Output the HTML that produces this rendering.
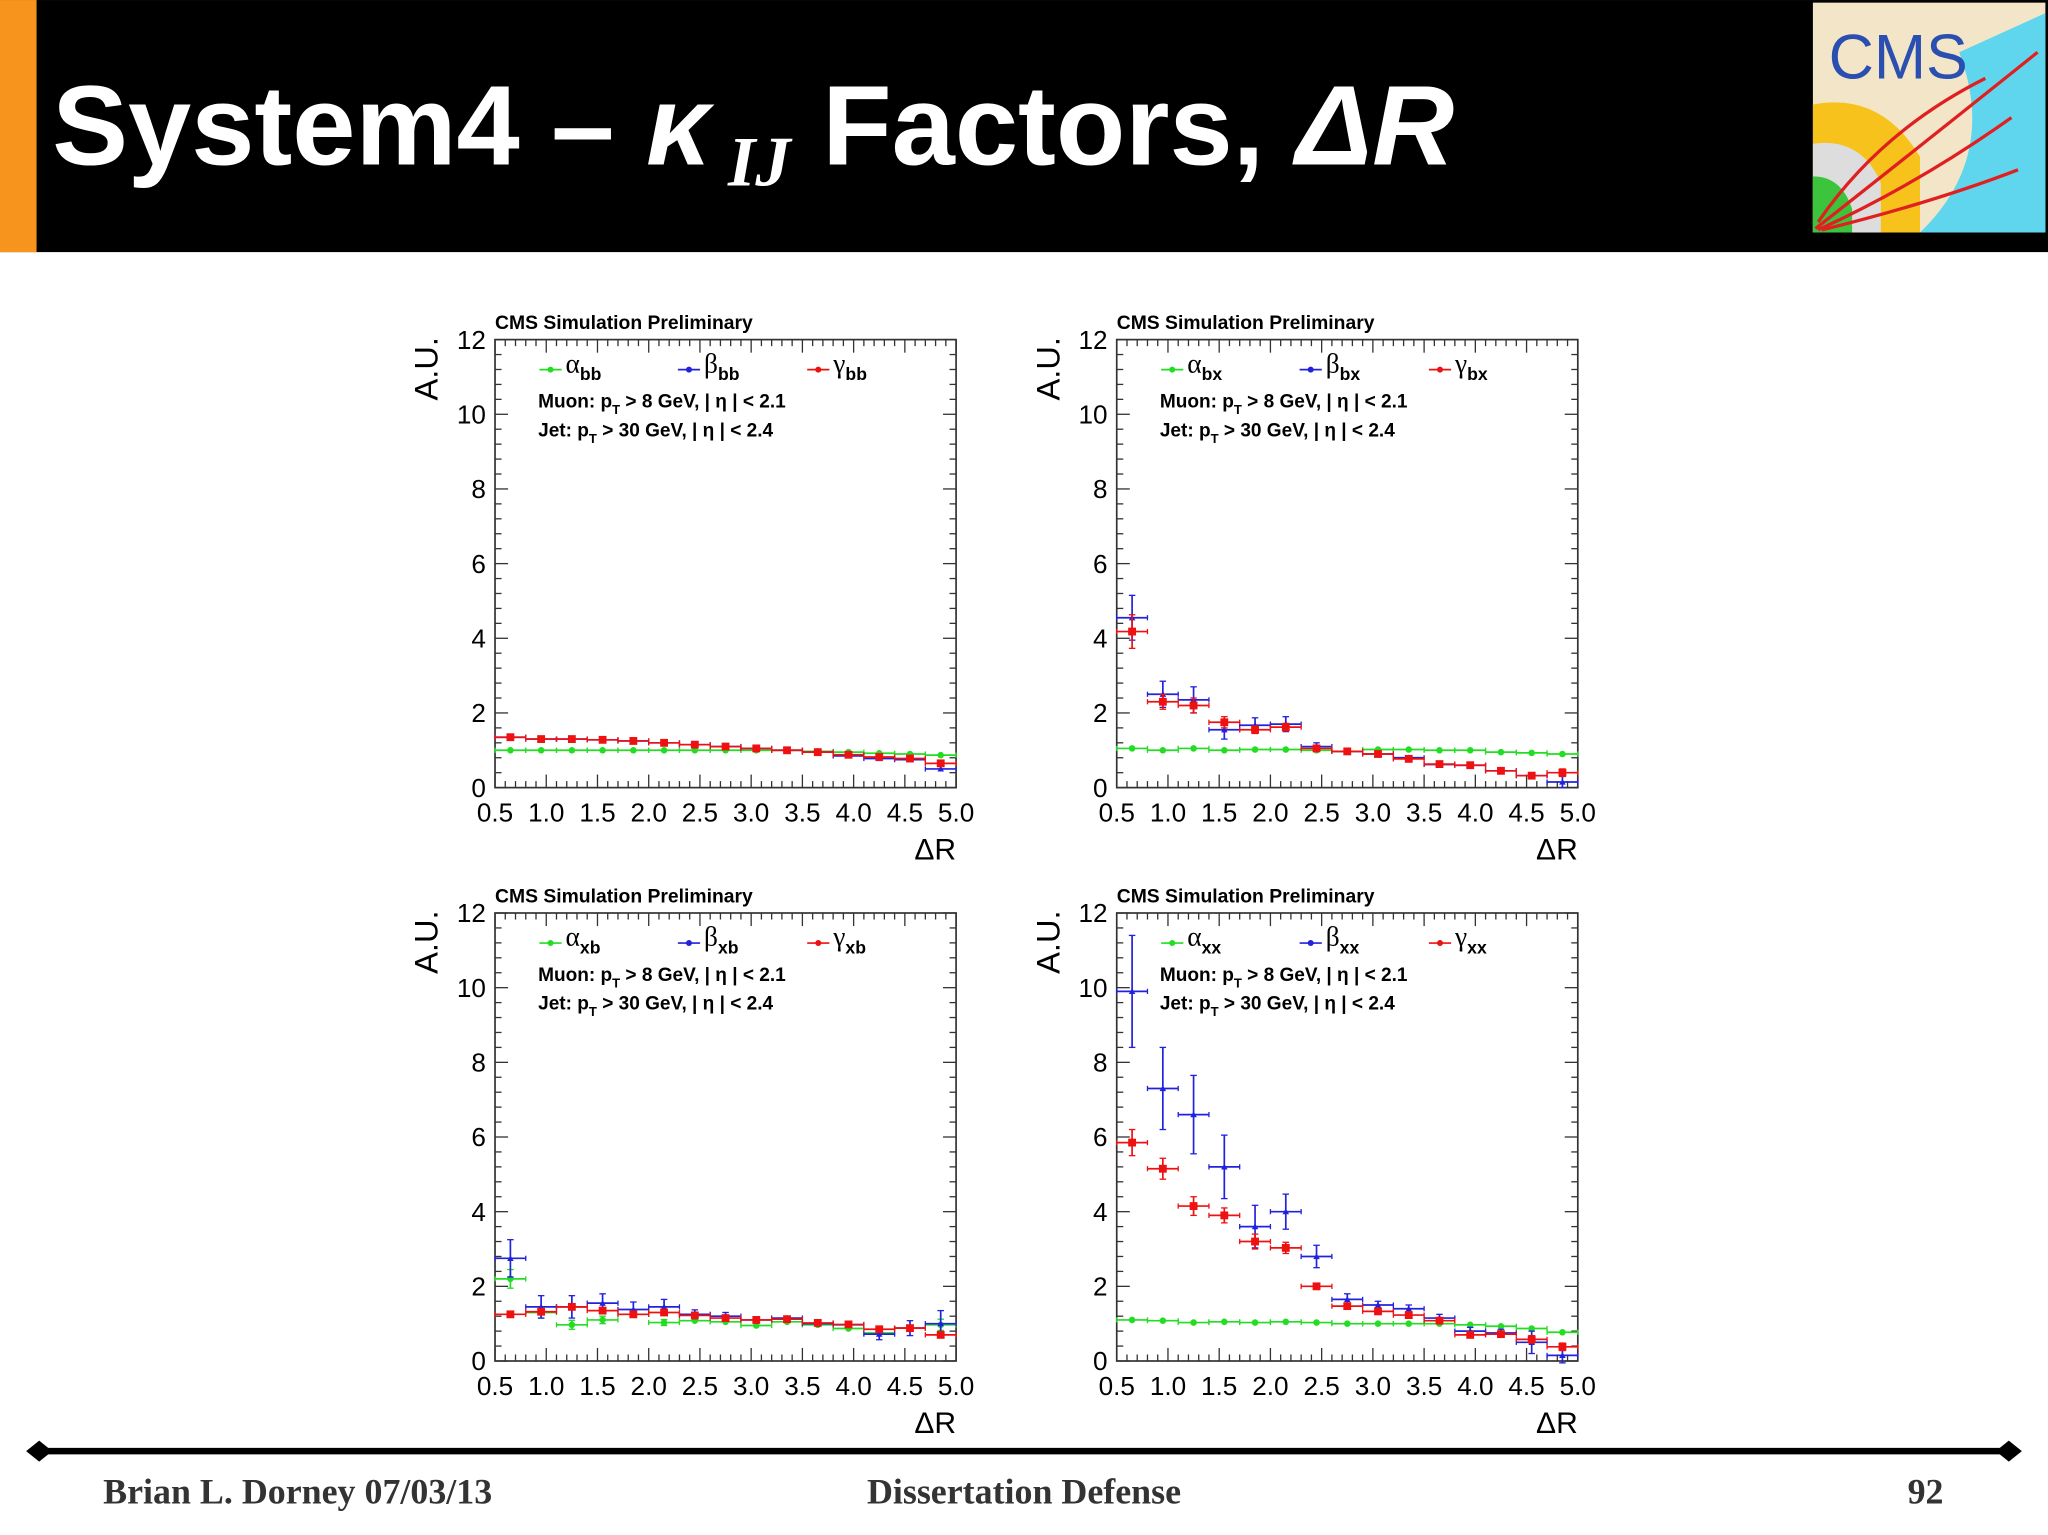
<!DOCTYPE html>
<html><head><meta charset="utf-8"><style>
html,body{margin:0;padding:0;background:#fff;}
svg{display:block;}
</style></head><body>
<svg id="s" width="2048" height="1535" viewBox="0 0 1568 1175.2" xmlns="http://www.w3.org/2000/svg" font-family="Liberation Sans, sans-serif">
<rect x="0" y="0" width="1568" height="193" fill="#000"/>
<rect x="0" y="0" width="28" height="193" fill="#f7941d"/>
<text x="40" y="126" fill="#fff" font-size="87" font-weight="bold">System4 – <tspan font-style="italic">κ</tspan><tspan font-family="Liberation Serif, serif" font-style="italic" font-size="54" dy="16"> IJ</tspan><tspan dy="-16"> Factors, </tspan><tspan font-style="italic">ΔR</tspan></text>
<g>
<rect x="1388" y="2" width="178" height="176" fill="#f3e6c8"/>
<path d="M1388 80 Q1440 70 1470 120 L1470 178 L1388 178Z" fill="#f7c21b"/>
<path d="M1388 110 Q1425 105 1440 140 L1440 178 L1388 178Z" fill="#ddd"/>
<path d="M1388 135 Q1410 135 1418 160 L1418 178 L1388 178Z" fill="#3cc43c"/>
<path d="M1500 40 L1566 10 L1566 178 L1470 178 Q1530 120 1500 40Z" fill="#5fd6ee"/>
<path d="M1390 175 Q1460 120 1560 40 M1392 176 Q1470 140 1540 90 M1395 176 Q1480 155 1545 130 M1392 170 Q1440 100 1520 60" stroke="#e02020" stroke-width="2.5" fill="none"/>
<text x="1400" y="60" fill="#2a4fb0" font-size="48">CMS</text>
</g>
<g id="plots"></g>
<g>
<line x1="30" y1="1111" x2="1538" y2="1111" stroke="#000" stroke-width="5"/>
<path d="M20 1111 L30 1103 L40 1111 L30 1119Z" fill="#000"/>
<path d="M1528 1111 L1538 1103 L1548 1111 L1538 1119Z" fill="#000"/>
<text x="79" y="1151" font-family="Liberation Serif, serif" font-weight="bold" font-size="27.5" fill="#333">Brian L. Dorney 07/03/13</text>
<text x="784" y="1151" text-anchor="middle" font-family="Liberation Serif, serif" font-weight="bold" font-size="27.5" fill="#333">Dissertation Defense</text>
<text x="1488" y="1151" text-anchor="end" font-family="Liberation Serif, serif" font-weight="bold" font-size="27.5" fill="#333">92</text>
</g>
</svg>
<script>
const binEdges=[0.5,0.8,1.1,1.4,1.7,2.0,2.3,2.6,2.9,3.2,3.5,3.8,4.1,4.4,4.7,5.0];
const xTicks=["0.5","1.0","1.5","2.0","2.5","3.0","3.5","4.0","4.5","5.0"];
const yTicks=["0","2","4","6","8","10","12"];
const panelNames=["bb","bx","xb","xx"];
const alphaBB=[1.0,1.0,1.0,1.0,1.0,1.0,1.0,1.0,1.0,1.0,0.97,0.95,0.92,0.9,0.87];
const betaBB=[1.35,1.3,1.3,1.28,1.25,1.2,1.15,1.1,1.05,1.0,0.95,0.85,0.78,0.75,0.5];
const gammaBB=[1.35,1.3,1.3,1.28,1.25,1.2,1.15,1.1,1.05,1.0,0.95,0.88,0.82,0.78,0.65];
const alphaBX=[1.05,1.0,1.05,1.0,1.02,1.02,1.0,0.97,1.02,1.02,1.0,1.0,0.95,0.93,0.9];
const betaBX=[4.55,2.5,2.35,1.55,1.67,1.7,1.1,0.97,0.9,0.8,0.62,0.6,0.45,0.32,0.15];
const gammaBX=[4.18,2.3,2.2,1.75,1.55,1.62,1.05,0.97,0.9,0.77,0.63,0.6,0.45,0.32,0.4];
const alphaXB=[2.2,1.3,0.97,1.1,1.25,1.03,1.08,1.05,0.95,1.05,0.97,0.87,0.75,0.88,0.97];
const betaXB=[2.75,1.45,1.45,1.55,1.38,1.45,1.25,1.2,1.1,1.15,1.0,0.97,0.72,0.88,1.0];
const gammaXB=[1.25,1.32,1.45,1.35,1.25,1.3,1.22,1.15,1.1,1.12,1.02,0.98,0.85,0.88,0.7];
const alphaXX=[1.1,1.08,1.03,1.05,1.03,1.05,1.03,1.0,1.0,1.0,1.0,0.97,0.93,0.87,0.77];
const betaXX=[9.9,7.3,6.6,5.2,3.6,4.0,2.8,1.65,1.5,1.4,1.15,0.8,0.75,0.5,0.15];
const gammaXX=[5.85,5.15,4.15,3.9,3.2,3.03,2.0,1.47,1.33,1.23,1.08,0.7,0.72,0.58,0.38];
const betaErrXX=[1.5,1.1,1.05,0.85,0.57,0.47,0.3,0.15,0.1,0.1,0.1,0.1,0.1,0.3,0.2];
const gammaErrXX=[0.35,0.28,0.25,0.2,0.2,0.15,0.05,0.05,0.05,0.05,0.05,0.05,0.05,0.1,0.1];
const betaErrBX=[0.6,0.35,0.35,0.25,0.2,0.2,0.1,0.05,0.05,0.05,0.05,0.05,0.05,0.05,0.15];
const gammaErrBX=[0.45,0.2,0.2,0.15,0.1,0.1,0.05,0.05,0.05,0.05,0.05,0.05,0.05,0.05,0.1];
const betaErrXB=[0.5,0.3,0.3,0.25,0.2,0.2,0.12,0.1,0.08,0.06,0.06,0.06,0.15,0.2,0.35];
const alphaErrXB=[0.25,0.15,0.12,0.1,0.05,0.08,0.05,0.05,0.05,0.05,0.05,0.05,0.05,0.05,0.15];
const NS="http://www.w3.org/2000/svg";
const root=document.getElementById('plots');
function mk(tag,attrs,parent){const e=document.createElementNS(NS,tag);for(const k in attrs)e.setAttribute(k,attrs[k]);parent.appendChild(e);return e;}
const panels=[
 {ox:379,oy:260,key:"bb",a:alphaBB,b:betaBB,g:gammaBB,ae:null,be:null,ge:null},
 {ox:855,oy:260,key:"bx",a:alphaBX,b:betaBX,g:gammaBX,ae:null,be:betaErrBX,ge:gammaErrBX},
 {ox:379,oy:699,key:"xb",a:alphaXB,b:betaXB,g:gammaXB,ae:alphaErrXB,be:betaErrXB,ge:null},
 {ox:855,oy:699,key:"xx",a:alphaXX,b:betaXX,g:gammaXX,ae:null,be:betaErrXX,ge:gammaErrXX}];
const W=353,H=343;
panels.forEach(p=>{
 const g=mk('g',{},root);
 
 
 const X=v=>p.ox+(v-0.5)/4.5*W, Y=v=>p.oy+H-v/12*H;
 const t=mk('text',{x:p.ox,y:p.oy-8,'font-size':14.8,'font-weight':'bold'},g);t.textContent='CMS Simulation Preliminary';
 
 
 mk('rect',{x:p.ox,y:p.oy,width:W,height:H,fill:'none',stroke:'#333','stroke-width':1.3},g);
 for(let i=0;i<=45;i++){const v=0.5+i*0.1,x=X(v),L=i%5==0?10:5;
  mk('line',{x1:x,y1:p.oy+H,x2:x,y2:p.oy+H-L,stroke:'#333','stroke-width':1},g);
  mk('line',{x1:x,y1:p.oy,x2:x,y2:p.oy+L,stroke:'#333','stroke-width':1},g);}
 for(let i=0;i<=30;i++){const v=i*0.4,y=Y(v),L=i%5==0?10:5;
  mk('line',{x1:p.ox,y1:y,x2:p.ox+L,y2:y,stroke:'#333','stroke-width':1},g);
  mk('line',{x1:p.ox+W,y1:y,x2:p.ox+W-L,y2:y,stroke:'#333','stroke-width':1},g);}
 xTicks.forEach(s=>{const e=mk('text',{x:X(parseFloat(s)),y:p.oy+H+26,'font-size':20,'text-anchor':'middle'},g);e.textContent=s;
  
  });
 yTicks.forEach(s=>{const e=mk('text',{x:p.ox-7,y:Y(parseFloat(s))+7,'font-size':20,'text-anchor':'end'},g);e.textContent=s;
  
  });
 const xt=mk('text',{x:p.ox+W,y:p.oy+H+55,'font-size':23,'text-anchor':'end'},g);xt.textContent='ΔR';
 
 
 const yt=mk('text',{x:0,y:0,'font-size':25,'text-anchor':'end',transform:`translate(${p.ox-44},${p.oy-2}) rotate(-90)`},g);yt.textContent='A.U.';
 
 
 const series=[[p.a,p.ae,'#22dd22','alpha','α',36,'circle'],[p.b,p.be,'#2222dd','beta','β',142,'tri'],[p.g,p.ge,'#ee1111','gamma','γ',241,'square']];
 series.forEach(([vals,errs,col,nm,sym,lx,shape])=>{
  const sg=mk('g',{},g);
  
  
  vals.forEach((v,i)=>{const x0=X(binEdges[i]),x1=X(binEdges[i+1]),xc=(x0+x1)/2,y=Y(v);
   mk('line',{x1:x0,y1:y,x2:x1,y2:y,stroke:col,'stroke-width':1.3},sg);
   mk('line',{x1:x0,y1:y-2,x2:x0,y2:y+2,stroke:col,'stroke-width':1},sg);
   mk('line',{x1:x1,y1:y-2,x2:x1,y2:y+2,stroke:col,'stroke-width':1},sg);
   if(errs&&errs[i]>0.07){const e=errs[i];mk('line',{x1:xc,y1:Y(v+e),x2:xc,y2:Y(v-e),stroke:col,'stroke-width':1.3},sg);
    mk('line',{x1:xc-2.5,y1:Y(v+e),x2:xc+2.5,y2:Y(v+e),stroke:col,'stroke-width':1},sg);
    mk('line',{x1:xc-2.5,y1:Y(v-e),x2:xc+2.5,y2:Y(v-e),stroke:col,'stroke-width':1},sg);}
   let m;
   if(shape=='circle')m=mk('circle',{cx:xc,cy:y,r:2.5,fill:col},sg);
   else if(shape=='square')m=mk('rect',{x:xc-3,y:y-3,width:6,height:6,fill:col},sg);
   else m=mk('path',{d:`M${xc-2.5} ${y+2} L${xc+2.5} ${y+2} L${xc} ${y-2.5}Z`,fill:col},sg);
   
   
  });
  const lg=mk('g',{},g);
  
  
  const lx0=p.ox+lx-2,ly=p.oy+23;
  mk('line',{x1:lx0,y1:ly,x2:lx0+17,y2:ly,stroke:col,'stroke-width':1.3},lg);
  mk('circle',{cx:lx0+8.5,cy:ly,r:2.3,fill:col},lg);
  const lt=mk('text',{x:lx0+20,y:ly+2,'font-size':21,'font-family':'Liberation Serif, serif'},lg);lt.textContent=sym;
  const sb=mk('tspan',{'font-size':13.5,'font-weight':'bold','font-family':'Liberation Sans, sans-serif',dy:6},lt);sb.textContent=p.key;
 });
 const c1=mk('text',{x:p.ox+33,y:p.oy+52,'font-size':14.6,'font-weight':'bold'},g);
 c1.innerHTML='Muon: p<tspan font-size="10" dy="5">T</tspan><tspan dy="-5"> &gt; 8 GeV, | η | &lt; 2.1</tspan>';
 
 
 const c2=mk('text',{x:p.ox+33,y:p.oy+74,'font-size':14.6,'font-weight':'bold'},g);
 c2.innerHTML='Jet: p<tspan font-size="10" dy="5">T</tspan><tspan dy="-5"> &gt; 30 GeV, | η | &lt; 2.4</tspan>';
 
 
});
</script>
</body></html>
